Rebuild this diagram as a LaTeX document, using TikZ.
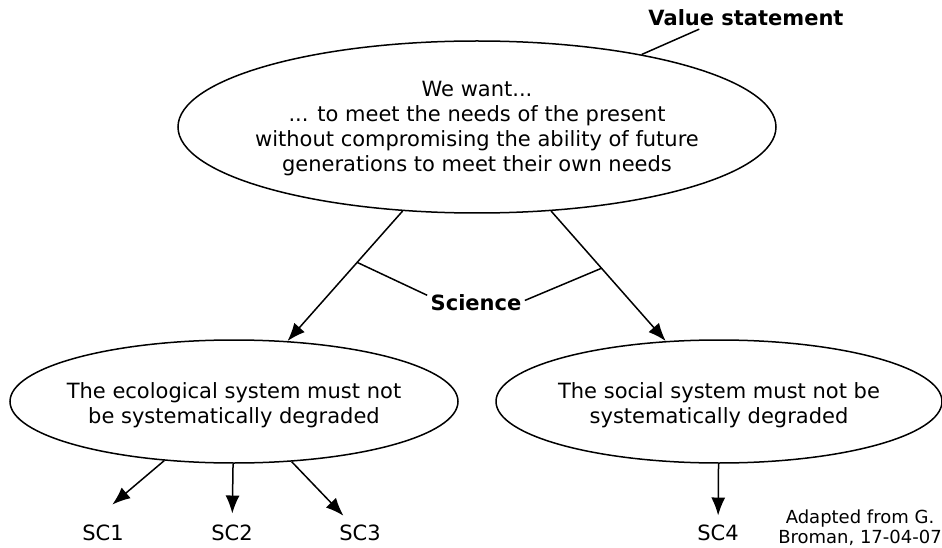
\documentclass[tikz,border=0pt]{standalone}
\usepackage{fontspec}
\setmainfont{DejaVu Sans}
\usetikzlibrary{shapes.geometric, arrows.meta}
\tikzstyle{bubble} = [ellipse, draw=black, line width=1.5pt]
\tikzstyle{bubbletext} = [align=center]
\tikzstyle{heading} = [font=\fontsize{21}{25}\selectfont\bfseries]
\tikzstyle{note} = [align=center, inner sep=0pt, font=\fontsize{18}{20}\selectfont]
\tikzstyle{arrow} = [line width=1.5pt, -{Latex[length=18pt, width=14pt]}]
\tikzstyle{leader} = [line width=1.5pt]

\begin{document}
\begin{tikzpicture}[node distance=131.5pt, font=\fontsize{21}{25}\selectfont]
	\useasboundingbox (0,0) rectangle (942pt,-548pt);

	\node (want) [bubble, minimum width=598pt, minimum height=172pt] at (477pt,-127pt) {};
	\node (wantText) [bubbletext, yshift=-2pt] at (want) {We want...\\... to meet the needs of the present\\without compromising the ability of future\\generations to meet their own needs};
	\node (value) [heading, above of=want, xshift=269pt, yshift=-22pt] {Value statement};
	\node (science) [heading, below of=want, xshift=-1pt, yshift=-44.5pt] {Science};

	\node (eco) [bubble, minimum width=448pt, minimum height=123pt, below of=want, xshift=-243pt, yshift=-143pt] {};
	\node (ecoText) [bubbletext, yshift=-3.5pt] at (eco) {The ecological system must not\\be systematically degraded};
	\node (soc) [bubble, minimum width=446pt, minimum height=123pt, right of=eco, xshift=353.5pt] {};
	\node (socText) [bubbletext, yshift=-3.5pt] at (soc) {The social system must not be\\systematically degraded};

	\node (sc1) [below of=eco, xshift=-131pt] {SC1};
	\node (sc2) [below of=eco, xshift=-2pt] {SC2};
	\node (sc3) [below of=eco, xshift=126pt] {SC3};
	\node (sc4) [below of=soc, xshift=-1pt] {SC4};
	\node (credit) [note] at (860pt,-527.5pt) {Adapted from G.\\Broman, 17-04-07};

	\draw [arrow] (want) -- coordinate[pos=0.395] (sciL) (eco);
	\draw [arrow] (want) -- coordinate[pos=0.44] (sciR) (soc);
	\draw [leader] (want) -- (value.194);
	\draw [leader] (sciL) -- (science.171);
	\draw [leader] (science.3) -- (sciR);

	\draw [arrow, shorten >=44pt] (eco) -- (sc1.west);
	\draw [arrow, shorten >=8pt] (eco) -- (sc2);
	\draw [arrow, shorten >=8pt] (eco) -- (sc3);
	\draw [arrow, shorten >=6pt] (soc) -- (sc4);

\end{tikzpicture}
\end{document}
